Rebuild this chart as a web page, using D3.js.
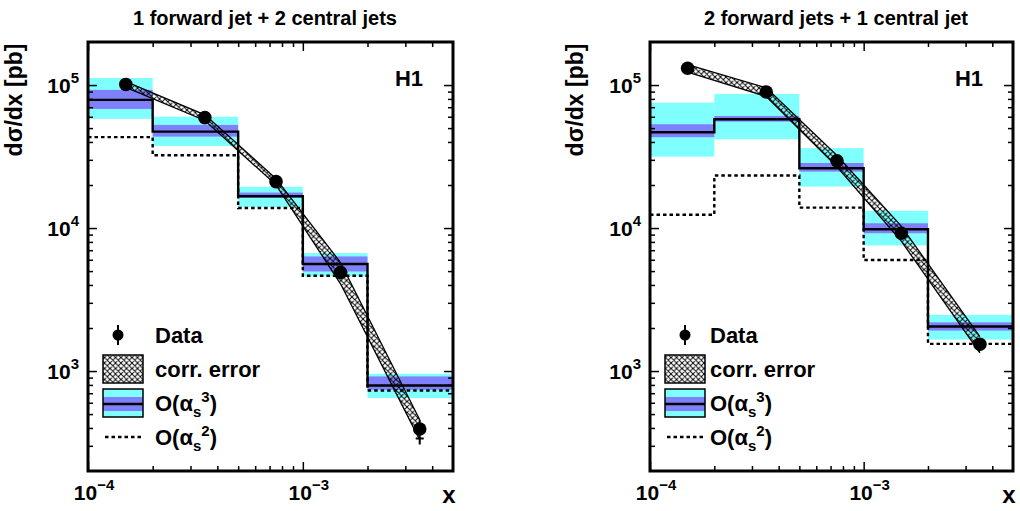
<!DOCTYPE html>
<html><head><meta charset="utf-8">
<script src="https://cdn.jsdelivr.net/npm/d3@7"></script>
<style>
html,body{margin:0;padding:0;background:#fff;}
svg{display:block;}
text{font-family:"Liberation Sans",Arial,Helvetica,sans-serif;font-weight:bold;fill:#000;}
</style></head>
<body>
<svg id="chart" width="1020" height="511"></svg>
<script>
// ---------- data ----------
const binEdges = [1e-4, 2e-4, 5e-4, 1e-3, 2e-3, 5e-3];
const dataX = [1.5e-4, 3.5e-4, 7.5e-4, 1.5e-3, 3.5e-3];
const xMajorTicks = [1e-4, 1e-3];
const yMajorTicks = [1e3, 1e4, 1e5];
const xTickExp = ["−4", "−3"];
const yTickExp = ["3", "4", "5"];
const titles = ["1 forward jet + 2 central jets", "2 forward jets + 1 central jet"];

// panel 1: 1 forward jet + 2 central jets
const p1Data   = [1.01e5, 5.92e4, 2.11e4, 4.89e3, 393];
const p1ErrUp  = [0.04, 0.04, 0.05, 0.08, 0.16];
const p1ErrDn  = [0.04, 0.04, 0.05, 0.08, 0.22];
const p1Corr   = [0.045, 0.045, 0.05, 0.17, 0.16];
const p1Nlo    = [7.87e4, 4.72e4, 1.67e4, 5.6e3, 793];
const p1ScaleLo = [6.81e4, 4.36e4, 1.63e4, 4.97e3, 740];
const p1ScaleHi = [9.25e4, 5.26e4, 1.77e4, 6.33e3, 917];
const p1TotLo  = [5.8e4, 3.75e4, 1.4e4, 4.58e3, 647];
const p1TotHi  = [1.12e5, 6.0e4, 1.94e4, 6.68e3, 957];
const p1Lo     = [4.32e4, 3.23e4, 1.38e4, 4.64e3, 731];

// panel 2: 2 forward jets + 1 central jet
const p2Data   = [1.31e5, 8.95e4, 2.95e4, 9.2e3, 1.54e3];
const p2ErrUp  = [0.04, 0.04, 0.05, 0.06, 0.06];
const p2ErrDn  = [0.04, 0.04, 0.05, 0.06, 0.09];
const p2Corr   = [0.06, 0.07, 0.09, 0.12, 0.13];
const p2Nlo    = [4.68e4, 5.77e4, 2.62e4, 9.8e3, 2.05e3];
const p2ScaleLo = [4.32e4, 5.55e4, 2.48e4, 9.2e3, 1.92e3];
const p2ScaleHi = [5.32e4, 6.08e4, 2.85e4, 1.08e4, 2.19e3];
const p2TotLo  = [3.16e4, 4.18e4, 1.95e4, 7.55e3, 1.66e3];
const p2TotHi  = [7.53e4, 8.66e4, 3.62e4, 1.32e4, 2.47e3];
const p2Lo     = [1.24e4, 2.33e4, 1.39e4, 5.98e3, 1.55e3];

// ---------- layout ----------
const panels = [
  {x0: 88, x1: 453, title: titles[0], titleX: 265, data: p1Data, errUp: p1ErrUp, errDn: p1ErrDn, corr: p1Corr,
   nlo: p1Nlo, sLo: p1ScaleLo, sHi: p1ScaleHi, tLo: p1TotLo, tHi: p1TotHi, lo: p1Lo,
   ylabX: 22, legMark: 30, legBox: 15, legText: 67},
  {x0: 650, x1: 1013, title: titles[1], titleX: 836, data: p2Data, errUp: p2ErrUp, errDn: p2ErrDn, corr: p2Corr,
   nlo: p2Nlo, sLo: p2ScaleLo, sHi: p2ScaleHi, tLo: p2TotLo, tHi: p2TotHi, lo: p2Lo,
   ylabX: 583, legMark: 35, legBox: 15, legText: 60}
];
const yTop = 42, yBot = 471;
const CYAN = "#80ffff", PURPLE = "#8080fa";

const svg = d3.select("#chart");
const defs = svg.append("defs");
const HS = 5.5;
const pat = defs.append("pattern").attr("id", "hatch").attr("patternUnits", "userSpaceOnUse")
  .attr("width", HS).attr("height", HS);
pat.append("path").attr("d", `M0,0L${HS},${HS}M0,${HS}L${HS},0M-1,1L1,-1M${HS-1},${HS+1}L${HS+1},${HS-1}M-1,${HS-1}L1,${HS+1}M${HS-1},-1L${HS+1},1`)
  .attr("stroke", "#000").attr("stroke-width", 0.95).attr("fill", "none");

function minorTicks(lo, hi) {
  const out = [];
  for (let e = Math.floor(Math.log10(lo)); e <= Math.ceil(Math.log10(hi)); e++) {
    for (let m = 2; m <= 9; m++) { const v = m * Math.pow(10, e); if (v > lo * 1.0001 && v < hi * 0.9999) out.push(v); }
  }
  return out;
}

panels.forEach((p, pi) => {
  const x = d3.scaleLog().domain([binEdges[0], binEdges[binEdges.length - 1]]).range([p.x0, p.x1]);
  const y = d3.scaleLog().domain([200, 2e5]).range([yBot, yTop]);
  const g = svg.append("g");
  const clipId = "clip" + pi;
  defs.append("clipPath").attr("id", clipId).append("rect")
    .attr("x", p.x0).attr("y", yTop).attr("width", p.x1 - p.x0).attr("height", yBot - yTop);
  const pg = g.append("g").attr("clip-path", `url(#${clipId})`);

  const bins = d3.range(5).map(i => ({i, a: binEdges[i], b: binEdges[i + 1]}));
  // total uncertainty (cyan)
  pg.selectAll(".tot").data(bins).join("rect")
    .attr("x", d => x(d.a)).attr("width", d => x(d.b) - x(d.a))
    .attr("y", d => y(p.tHi[d.i])).attr("height", d => y(p.tLo[d.i]) - y(p.tHi[d.i]))
    .attr("fill", CYAN);
  // scale uncertainty (purple)
  pg.selectAll(".sc").data(bins).join("rect")
    .attr("x", d => x(d.a)).attr("width", d => x(d.b) - x(d.a))
    .attr("y", d => y(p.sHi[d.i])).attr("height", d => y(p.sLo[d.i]) - y(p.sHi[d.i]))
    .attr("fill", PURPLE);

  // step lines
  function stepPts(vals) {
    const pts = [];
    vals.forEach((v, i) => { pts.push([x(binEdges[i]), y(v)]); pts.push([x(binEdges[i + 1]), y(v)]); });
    return pts;
  }
  pg.append("path").attr("d", d3.line()(stepPts(p.lo)))
    .attr("fill", "none").attr("stroke", "#000").attr("stroke-width", 2.4).attr("stroke-dasharray", "3.5,3");
  pg.append("path").attr("d", d3.line()(stepPts(p.nlo)))
    .attr("fill", "none").attr("stroke", "#000").attr("stroke-width", 2.4);

  // correlated error band
  const band = p.data.map((v, i) => ({x: dataX[i], hi: v * (1 + p.corr[i]), lo: v * (1 - p.corr[i])}));
  const area = d3.area().x(d => x(d.x)).y0(d => y(d.lo)).y1(d => y(d.hi));
  pg.append("path").attr("d", area(band)).attr("fill", "url(#hatch)").attr("stroke", "none");
  pg.append("path").attr("d", d3.line().x(d => x(d.x)).y(d => y(d.hi))(band))
    .attr("fill", "none").attr("stroke", "#000").attr("stroke-width", 1.3);
  pg.append("path").attr("d", d3.line().x(d => x(d.x)).y(d => y(d.lo))(band))
    .attr("fill", "none").attr("stroke", "#000").attr("stroke-width", 1.3);

  // data points
  const pts = p.data.map((v, i) => ({x: dataX[i], v, up: v * (1 + p.errUp[i]), dn: v * (1 - p.errDn[i])}));
  pg.selectAll(".eb").data(pts).join("line")
    .attr("x1", d => x(d.x)).attr("x2", d => x(d.x)).attr("y1", d => y(d.up)).attr("y2", d => y(d.dn))
    .attr("stroke", "#000").attr("stroke-width", 2);
  pg.selectAll(".cap").data(pts).join("line")
    .attr("x1", d => x(d.x) - 4).attr("x2", d => x(d.x) + 4)
    .attr("y1", d => y(d.dn) - 6).attr("y2", d => y(d.dn) - 6)
    .attr("stroke", "#000").attr("stroke-width", 2);
  pg.selectAll(".pt").data(pts).join("circle")
    .attr("cx", d => x(d.x)).attr("cy", d => y(d.v)).attr("r", 6.8).attr("fill", "#000");

  // axes ticks (inward), all four sides
  const xMinor = minorTicks(binEdges[0], binEdges[binEdges.length - 1]);
  const yMinor = minorTicks(200, 2e5);
  const tickStyle = sel => { sel.select(".domain").remove(); sel.selectAll("line").attr("stroke", "#000").attr("stroke-width", 1.5); sel.selectAll("text").remove(); };
  g.append("g").attr("transform", `translate(0,${yBot})`).call(d3.axisBottom(x).tickValues(xMajorTicks).tickSize(-9).tickFormat("")).call(tickStyle);
  g.append("g").attr("transform", `translate(0,${yBot})`).call(d3.axisBottom(x).tickValues(xMinor).tickSize(-5).tickFormat("")).call(tickStyle);
  g.append("g").attr("transform", `translate(0,${yTop})`).call(d3.axisTop(x).tickValues(xMajorTicks).tickSize(-9).tickFormat("")).call(tickStyle);
  g.append("g").attr("transform", `translate(0,${yTop})`).call(d3.axisTop(x).tickValues(xMinor).tickSize(-5).tickFormat("")).call(tickStyle);
  g.append("g").attr("transform", `translate(${p.x0},0)`).call(d3.axisLeft(y).tickValues(yMajorTicks).tickSize(-9).tickFormat("")).call(tickStyle);
  g.append("g").attr("transform", `translate(${p.x0},0)`).call(d3.axisLeft(y).tickValues(yMinor).tickSize(-5).tickFormat("")).call(tickStyle);
  g.append("g").attr("transform", `translate(${p.x1},0)`).call(d3.axisRight(y).tickValues(yMajorTicks).tickSize(-9).tickFormat("")).call(tickStyle);
  g.append("g").attr("transform", `translate(${p.x1},0)`).call(d3.axisRight(y).tickValues(yMinor).tickSize(-5).tickFormat("")).call(tickStyle);

  // frame
  g.append("rect").attr("x", p.x0).attr("y", yTop).attr("width", p.x1 - p.x0).attr("height", yBot - yTop)
    .attr("fill", "none").attr("stroke", "#000").attr("stroke-width", 3);

  // tick labels
  yMajorTicks.forEach((v, i) => {
    const t = g.append("text").attr("x", p.x0 - 9).attr("y", y(v) + 8).attr("text-anchor", "end").attr("font-size", 21);
    t.append("tspan").text("10");
    t.append("tspan").attr("font-size", 15).attr("dy", -10).text(yTickExp[i]);
  });
  xMajorTicks.forEach((v, i) => {
    const t = g.append("text").attr("x", x(v) + 6).attr("y", 500).attr("text-anchor", "middle").attr("font-size", 21);
    t.append("tspan").text("10");
    t.append("tspan").attr("font-size", 15).attr("dy", -10).text(xTickExp[i]);
  });
  g.append("text").attr("x", p.x1 - 4).attr("y", 503).attr("text-anchor", "middle").attr("font-size", 24).text("x");
  g.append("text").attr("transform", `translate(${p.ylabX},100) rotate(-90)`).attr("text-anchor", "middle")
    .attr("font-size", 23).text("dσ/dx [pb]");
  g.append("text").attr("x", p.titleX).attr("y", 25).attr("text-anchor", "middle").attr("font-size", 20).text(p.title);
  g.append("text").attr("x", p.x1 - 30).attr("y", 86).attr("text-anchor", "end").attr("font-size", 22).text("H1");

  // legend
  const lx = p.x0;
  const lm = lx + p.legMark, lb = lx + p.legBox, lt = lx + p.legText;
  g.append("line").attr("x1", lm).attr("x2", lm).attr("y1", 325).attr("y2", 345).attr("stroke", "#000").attr("stroke-width", 2);
  g.append("circle").attr("cx", lm).attr("cy", 335).attr("r", 5.5).attr("fill", "#000");
  g.append("text").attr("x", lt).attr("y", 343).attr("font-size", 22).text("Data");

  g.append("rect").attr("x", lb).attr("y", 355).attr("width", 40).attr("height", 28)
    .attr("fill", "url(#hatch)").attr("stroke", "#000").attr("stroke-width", 1.5);
  g.append("text").attr("x", lt).attr("y", 377).attr("font-size", 22).text("corr. error");

  g.append("rect").attr("x", lb).attr("y", 389).attr("width", 40).attr("height", 28).attr("fill", CYAN);
  g.append("rect").attr("x", lb).attr("y", 397).attr("width", 40).attr("height", 14).attr("fill", PURPLE);
  g.append("line").attr("x1", lb).attr("x2", lb + 40).attr("y1", 404).attr("y2", 404).attr("stroke", "#000").attr("stroke-width", 2.4);
  g.append("rect").attr("x", lb).attr("y", 389).attr("width", 40).attr("height", 28)
    .attr("fill", "none").attr("stroke", "#000").attr("stroke-width", 1.5);
  const t3 = g.append("text").attr("x", lt).attr("y", 411).attr("font-size", 22);
  t3.append("tspan").text("O(α");
  t3.append("tspan").attr("font-size", 15).attr("dy", 6).text("s");
  t3.append("tspan").attr("font-size", 15).attr("dy", -15).text("3");
  t3.append("tspan").attr("dy", 9).text(")");

  g.append("line").attr("x1", lb + 2).attr("x2", lb + 40).attr("y1", 437).attr("y2", 437)
    .attr("stroke", "#000").attr("stroke-width", 2.4).attr("stroke-dasharray", "3.5,3");
  const t2 = g.append("text").attr("x", lt).attr("y", 445).attr("font-size", 22);
  t2.append("tspan").text("O(α");
  t2.append("tspan").attr("font-size", 15).attr("dy", 6).text("s");
  t2.append("tspan").attr("font-size", 15).attr("dy", -15).text("2");
  t2.append("tspan").attr("dy", 9).text(")");
});
</script>
</body></html>
